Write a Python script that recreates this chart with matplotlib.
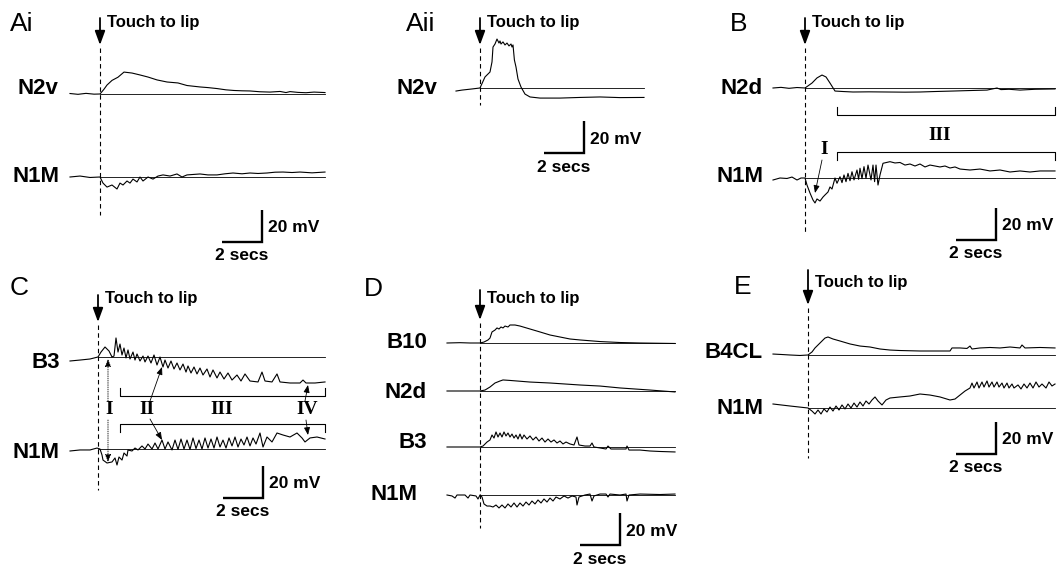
import matplotlib
matplotlib.use("Agg")
import matplotlib.pyplot as plt

W, H = 1057, 567
PX_S = 20.0    # pixels per second
PX_MV = 1.6    # pixels per mV
BAR_S, BAR_MV = 2, 20

# Ai: touch-evoked responses in N2v and N1M (time in s, potential in mV)
ai_t_n2v = [-1.5, -1.1, -0.7, -0.3, 0, 0.2, 0.35, 0.6, 0.9, 1.2, 1.6, 2.0, 2.4, 2.85, 3.35,
            3.9, 4.35, 5.0, 5.4, 5.85, 6.3, 6.7, 7.1, 7.5, 8.0, 8.5, 9.0, 9.3, 9.5, 9.9,
            10.3, 10.7, 11.25]
ai_n2v = [0.3, -0.2, 0.4, -0.1, 0, 3.0, 5.6, 8.5, 10.5, 13.7, 13.1, 11.9, 10.6, 8.8, 7.5,
          6.9, 5.3, 4.4, 4.0, 3.4, 2.6, 2.2, 2.0, 1.9, 1.4, 1.2, 1.6, 0.9, 1.5, 1.0,
          0.8, 1.2, 0.9]
ai_t_n1m = [-1.5, -1.0, -0.5, 0, 0.15, 0.35, 0.6, 0.85, 1.0, 1.15, 1.35, 1.5, 1.65, 1.85,
            2.0, 2.15, 2.4, 2.65, 2.9, 3.15, 3.5, 3.85, 4.1, 4.35, 5.0, 5.4, 5.85, 6.25,
            6.65, 7.1, 7.5, 7.9, 8.35, 8.75, 9.15, 9.6, 10.0, 10.6, 11.25]
ai_n1m = [0, 0.6, -0.3, 0, -3.8, -6.3, -5.0, -7.5, -3.8, -5.0, -2.5, -3.8, -1.3, -3.1,
          0, -2.5, 0, -1.3, 0.6, 1.3, 0.6, 1.9, 0, 1.3, 1.9, 1.3, 1.3, 2.0,
          2.5, 2.0, 2.5, 2.2, 2.5, 3.0, 3.1, 2.8, 3.1, 2.6, 3.1]

# Aii: N2v plateau
aii_t_n2v = [-1.2, -0.9, -0.4, 0, 0.25, 0.5, 0.6, 0.65, 0.75, 0.85, 0.95, 1.0, 1.05, 1.15,
             1.25, 1.35, 1.45, 1.55, 1.6, 1.65, 1.72, 1.8, 1.9, 2.05, 2.25, 2.5, 3.0, 4.0,
             5.0, 6.0, 7.0, 8.2]
aii_n2v = [-1.9, -1.3, -0.6, 0, 6.9, 10.0, 16.3, 25.6, 27.5, 30.6, 28.1, 29.4, 27.5, 28.8,
           26.9, 28.1, 26.3, 27.5, 25.6, 26.9, 17.5, 13.1, 5.6, 0.6, -3.8, -5.6, -6.3, -6.3,
           -5.9, -5.6, -6.0, -5.9]

# B: N2d and N1M
b_t_n2d = [-1.6, -1.2, -0.8, -0.4, 0, 0.35, 0.6, 0.85, 1.05, 1.25, 1.5, 1.9, 2.4, 3.2, 4.1,
           5.0, 5.75, 6.5, 7.4, 8.2, 9.1, 9.6, 9.8, 10.2, 10.75, 11.5, 12.5]
b_n2d = [0, 0.4, -0.2, 0.3, 0, 3.1, 6.3, 8.1, 6.9, 3.1, -1.9, -2.2, -2.5, -2.4, -2.5,
         -2.6, -2.5, -2.2, -1.9, -1.6, -1.3, 0, -1.0, -0.8, -1.3, -0.8, -0.6]
b_t_n1m = [-1.6, -1.25, -0.9, -0.65, -0.4, -0.2, 0, 0.1, 0.25, 0.4, 0.5, 0.6, 0.75, 0.9,
           1.0, 1.15, 1.25, 1.35, 1.5, 1.6, 1.75, 1.85, 1.95, 2.05, 2.15, 2.25, 2.35, 2.45,
           2.6, 2.68, 2.75, 2.85, 2.95, 3.05, 3.15, 3.3, 3.4, 3.48, 3.55, 3.65, 3.75, 3.9,
           4.25, 4.5, 4.75, 5.0, 5.25, 5.5, 5.75, 6.0, 6.25, 6.75, 7.0, 7.25, 7.5, 7.75,
           8.25, 8.75, 9.25, 9.75, 10.25, 10.75, 11.25, 11.75, 12.5]
b_n1m = [-1.25, 0, -0.3, 0.6, -1.25, 0, 0, -4.4, -9.4, -13.75, -15.6, -13.1, -14.4, -11.9,
         -10.6, -8.75, -5.6, -6.9, 0, -3.3, 0.8, -2.9, 1.9, -2.3, 2.9, -1.7, 3.9, -1.2,
         5.0, -0.8, 6.1, -0.4, 7.1, -0.2, 8.1, -1.2, 8.1, -2.3, 8.1, -4.4, 1.9, 9.2,
         10.2, 9.4, 9.7, 8.1, 8.75, 7.5, 8.75, 6.9, 8.1, 6.9, 7.5, 6.25, 6.9, 5.6,
         5.0, 5.6, 4.4, 5.0, 3.75, 4.4, 3.75, 4.4, 4.4]
b_phase3 = [1.6, 12.5]

# C: B3 and N1M, phases I-IV
c_t_b3 = [-1.4, -0.9, -0.4, 0, 0.15, 0.35, 0.55, 0.7, 0.8, 0.9, 1.0, 1.1, 1.2, 1.3, 1.4,
          1.5, 1.6, 1.75, 1.85, 1.95, 2.1, 2.25, 2.35, 2.5, 2.65, 2.8, 2.95, 3.1, 3.25, 3.35,
          3.5, 3.65, 3.8, 3.95, 4.1, 4.25, 4.4, 4.5, 4.65, 4.8, 4.95, 5.1, 5.25, 5.45, 5.6,
          5.75, 5.95, 6.1, 6.3, 6.5, 6.7, 6.95, 7.15, 7.35, 7.6, 8.0, 8.2, 8.35, 8.7, 8.95,
          9.1, 9.6, 10.1, 10.25, 10.4, 10.85, 11.35]
c_b3 = [-2.5, -1.9, -1.25, 0, 3.1, 6.25, 3.75, 0, 0.6, 11.9, 3.1, 8.1, 1.25, 5.6, -0.6,
        4.4, -1.25, 3.1, -1.9, 1.9, -2.5, 0.6, -3.1, 0.6, -3.75, 1.25, -5.0, 0, -6.25, -1.9,
        -6.9, -2.5, -7.5, -3.75, -8.1, -4.4, -9.4, -5.6, -10.0, -6.25, -10.6, -6.9, -11.25, -7.5, -12.5,
        -8.1, -13.1, -9.4, -13.75, -10.0, -14.4, -11.25, -15.0, -10.6, -15.0, -15.6, -9.4, -15.0, -15.6, -10.6,
        -15.6, -16.25, -16.25, -14.4, -16.25, -16.25, -15.6]
c_t_n1m = [-1.4, -0.9, -0.4, -0.05, 0.1, 0.2, 0.25, 0.45, 0.7, 0.85, 0.95, 1.05, 1.2, 1.3,
           1.45, 1.5, 1.7, 1.85, 2.0, 2.2, 2.35, 2.5, 2.7, 2.85, 3.0, 3.2, 3.35, 3.5, 3.7,
           3.85, 4.0, 4.15, 4.3, 4.45, 4.6, 4.75, 4.9, 5.05, 5.2, 5.35, 5.5, 5.65, 5.8, 5.95,
           6.1, 6.25, 6.4, 6.55, 6.7, 6.85, 7.0, 7.15, 7.3, 7.45, 7.6, 7.75, 7.9, 8.1, 8.25,
           8.45, 8.7, 8.95, 9.25, 9.6, 9.95, 10.2, 10.35, 10.6, 10.95, 11.35]
c_n1m = [-1.25, -0.6, -0.6, 0.6, 0, -3.75, -6.9, -8.75, -8.1, -5.6, -10.0, -5.0, -6.9, -2.5,
         -4.4, -0.6, -1.25, 0.6, -0.6, 1.9, 0, 3.1, 0, 3.75, 0, 5.6, 0, 4.4, -0.6,
         5.6, -0.3, 6.25, 0, 5.6, -0.3, 6.9, 0.3, 5.6, 0, 6.9, 0.6, 6.25, 0.6, 7.5,
         1.25, 5.6, 0.6, 6.9, 1.9, 7.5, 1.25, 6.25, 2.5, 7.5, 1.9, 6.9, 3.1, 10.0, 1.25,
         7.5, 4.4, 10.0, 8.75, 7.5, 10.0, 6.9, 4.4, 6.9, 7.5, 6.25]
c_phases = [1.1, 11.35]

# D: B10, N2d, B3, N1M
d_t_b10 = [-1.65, -1.0, -0.5, 0, 0.2, 0.4, 0.5, 0.6, 0.75, 0.85, 0.95, 1.05, 1.15, 1.25,
           1.4, 1.5, 1.75, 2.0, 2.5, 3.0, 3.5, 4.0, 4.5, 5.0, 6.0, 7.0, 8.0, 9.75]
d_b10 = [0, 0.2, 0, 0, 0.6, 1.9, 3.1, 6.9, 8.1, 9.4, 8.75, 10.0, 9.4, 10.6,
         10.0, 11.25, 11.25, 10.6, 8.75, 6.9, 5.0, 3.75, 2.5, 1.9, 0.9, 0.3, 0, -0.3]
d_t_n2d = [-1.65, -0.8, 0, 0.25, 0.5, 0.75, 1.0, 1.15, 1.5, 2.5, 3.5, 5.0, 6.0, 7.0, 8.5, 9.75]
d_n2d = [0, 0, 0, 0.6, 2.5, 5.0, 6.25, 6.9, 6.6, 5.6, 5.0, 3.75, 3.1, 1.9, 0.6, -0.6]
d_t_b3 = [-1.65, 0, 0.15, 0.35, 0.5, 0.6, 0.7, 0.8, 0.9, 1.0, 1.1, 1.2, 1.3, 1.4, 1.5,
          1.6, 1.7, 1.8, 1.9, 2.0, 2.1, 2.2, 2.35, 2.5, 2.65, 2.8, 2.95, 3.1, 3.25, 3.4,
          3.55, 3.7, 3.85, 4.0, 4.15, 4.3, 4.5, 4.7, 4.85, 4.95, 5.25, 5.5, 5.6, 5.7, 6.0,
          6.3, 6.4, 6.55, 7.0, 7.3, 7.35, 7.45, 8.0, 8.5, 9.0, 9.75]
d_b3 = [0, 0, 0.6, 3.1, 4.4, 7.5, 5.6, 9.4, 6.25, 8.75, 6.25, 9.4, 6.9, 8.75, 6.25,
        8.1, 5.6, 7.5, 5.0, 8.1, 5.0, 7.5, 5.0, 6.9, 4.4, 6.25, 3.75, 5.6, 3.1, 5.0,
        3.1, 4.4, 2.5, 3.75, 1.9, 3.1, 1.9, 1.25, 6.25, 1.25, 0.6, 0.6, 2.5, 0, -0.6,
        -1.25, 0.6, -1.25, -1.25, -1.25, 0.6, -1.9, -1.9, -2.5, -2.8, -3.1]
d_t_n1m = [-1.65, -1.4, -1.25, -1.15, -0.75, -0.6, -0.5, -0.2, -0.1, 0, 0.1, 0.2, 0.35, 0.5,
           0.65, 0.8, 0.95, 1.1, 1.25, 1.4, 1.55, 1.7, 1.85, 2.0, 2.15, 2.3, 2.45, 2.6, 2.75,
           2.9, 3.05, 3.2, 3.35, 3.5, 3.65, 3.8, 4.0, 4.2, 4.4, 4.6, 4.8, 4.85, 4.95, 5.25,
           5.5, 5.6, 5.7, 6.0, 6.3, 6.4, 6.5, 7.0, 7.3, 7.35, 7.45, 8.0, 9.0, 9.75]
d_n1m = [0, -0.6, -1.9, 0, 0, -1.9, 0, -0.6, -2.5, 0, -1.25, -5.6, -6.9, -6.9,
         -7.5, -6.25, -8.1, -6.25, -8.1, -5.6, -7.5, -5.0, -7.5, -5.0, -6.9, -4.4, -6.25, -3.75, -5.6,
         -3.1, -5.0, -2.5, -4.4, -1.9, -3.75, -1.25, -2.5, -0.6, -1.9, -0.6, -1.25, -6.25, -1.25, 0,
         0.6, -3.75, -0.6, 0.6, 0.6, -1.25, 0.6, 0, 0.6, -3.75, 0, 0.6, 0.3, 0.6]

# E: B4CL and N1M
e_t_b4cl = [-1.75, -1.3, -0.9, -0.4, 0, 0.2, 0.35, 0.6, 0.85, 1.0, 1.25, 1.6, 2.1, 2.6, 3.1,
            3.6, 4.1, 4.6, 5.6, 6.6, 7.1, 7.2, 7.6, 7.95, 8.1, 8.2, 8.6, 9.1, 9.6, 10.1,
            10.6, 10.7, 10.85, 11.6, 12.35]
e_b4cl = [0.6, 0.3, 0, -0.3, 0, 1.9, 4.4, 7.5, 10.6, 11.25, 10.0, 8.75, 6.9, 5.6, 5.0,
          3.75, 3.1, 2.8, 2.5, 2.5, 2.5, 4.4, 4.4, 4.1, 5.6, 3.75, 4.4, 4.7, 4.4, 5.0,
          4.4, 6.25, 4.4, 4.7, 4.4]
e_t_n1m = [-1.75, -0.9, 0, 0.2, 0.35, 0.5, 0.65, 0.8, 0.95, 1.1, 1.25, 1.4, 1.55, 1.7, 1.85,
           2.0, 2.15, 2.3, 2.45, 2.6, 2.75, 2.9, 3.05, 3.2, 3.35, 3.5, 3.7, 3.9, 4.1, 4.6,
           5.1, 5.6, 6.1, 6.6, 7.1, 7.35, 7.6, 7.85, 8.1, 8.2, 8.3, 8.45, 8.55, 8.7, 8.8,
           8.95, 9.05, 9.2, 9.3, 9.45, 9.55, 9.7, 9.8, 9.95, 10.05, 10.2, 10.3, 10.5, 10.65,
           10.8, 10.95, 11.1, 11.25, 11.4, 11.55, 11.7, 11.9, 12.05, 12.2, 12.35]
e_n1m = [2.5, 1.25, 0, -1.9, -3.75, -1.25, -3.75, -0.6, -2.5, 0.6, -1.9, 1.25, -1.25, 1.9, -0.6,
         2.5, 0, 3.1, 0.6, 3.75, 1.25, 4.4, 2.5, 5.0, 6.9, 4.4, 1.9, 5.0, 6.25, 6.9,
         7.5, 8.75, 8.1, 6.9, 5.0, 5.6, 8.1, 10.6, 12.5, 15.6, 12.5, 16.25, 12.5, 16.25, 13.1,
         16.9, 13.1, 16.25, 13.1, 16.25, 13.1, 15.6, 12.5, 15.6, 12.5, 15.0, 12.5, 14.4, 11.9,
         15.0, 12.5, 15.6, 12.5, 16.25, 13.1, 15.0, 12.5, 16.25, 13.75, 15.0]

plt.rcParams['font.family'] = ['Liberation Sans', 'DejaVu Sans']

fig = plt.figure(figsize=(W / 100, H / 100), dpi=100)
over = fig.add_axes([0, 0, 1, 1])
over.set_xlim(0, W)
over.set_ylim(H, 0)
over.axis('off')


def panel(sx, ry):
    # seconds / mV axes with t=0 at pixel column sx and 0 mV at pixel row ry
    ax = fig.add_axes([0, 0, 1, 1])
    ax.set_xlim(-sx / PX_S, (W - sx) / PX_S)
    ax.set_ylim((ry - H) / PX_MV, ry / PX_MV)
    ax.axis('off')
    return ax


def mv(ax, y):
    return ax.get_ylim()[1] - y / PX_MV


def sec(ax, x):
    return ax.get_xlim()[0] + x / PX_S


def trace(ax, t, v, base_y, name, name_x, name_y):
    off = mv(ax, base_y)
    ax.plot(t, [p + off for p in v], color='k', lw=0.8)
    ax.plot([0, t[-1]], [off, off], color='k', lw=0.6)
    over.text(name_x, name_y, name, ha='right', va='center', fontsize=16, fontweight='bold')


def stimulus(ax, top, tip, dash_end, text_y):
    sx = -ax.get_xlim()[0] * PX_S
    over.annotate('', xy=(sx, tip), xytext=(sx, top),
                  arrowprops=dict(arrowstyle='-|>,head_length=0.6,head_width=0.22', color='k',
                                  lw=1.3, mutation_scale=14, shrinkA=0, shrinkB=0))
    ax.plot([0, 0], [mv(ax, tip + 3), mv(ax, dash_end)], color='k', lw=0.8, dashes=(4, 3))
    over.text(sx + 7, text_y, 'Touch to lip', fontsize=12, fontweight='bold', va='center')


def scalebar(ax, cx, cy):
    t1, v0 = sec(ax, cx), mv(ax, cy)
    ax.plot([t1 - BAR_S, t1, t1], [v0, v0, v0 + BAR_MV], color='k', lw=1.7,
            solid_joinstyle='miter', solid_capstyle='butt')
    over.text(cx + 6, cy - 14, '20 mV', va='center', fontsize=12.5, fontweight='bold')
    over.text(cx - 20, cy + 14, '2 secs', ha='center', va='center', fontsize=12.5,
              fontweight='bold')


def bracket(ax, span, y, tick):
    v, vt = mv(ax, y), mv(ax, y + tick)
    ax.plot([span[0], span[0], span[1], span[1]], [vt, v, v, vt], color='k', lw=0.8)


def roman(x, y, s):
    over.text(x, y, s, ha='center', va='center', fontsize=14, fontweight='bold',
              family=['Liberation Serif', 'DejaVu Serif'])


def pointer(x0, y0, x1, y1, ls='-'):
    over.annotate('', xy=(x1, y1), xytext=(x0, y0),
                  arrowprops=dict(arrowstyle='-|>,head_length=0.5,head_width=0.2', color='k',
                                  lw=0.6, ls=ls, mutation_scale=9, shrinkA=0, shrinkB=0))


def letter(x, y, s):
    over.text(x, y, s, va='center', fontsize=19)


# Ai
ax = panel(100, 94)
trace(ax, ai_t_n2v, ai_n2v, 94, 'N2v', 58, 88)
trace(ax, ai_t_n1m, ai_n1m, 177, 'N1M', 60, 177)
stimulus(ax, 18, 45, 215, 23)
scalebar(ax, 262, 242)
letter(10, 24, 'Ai')

# Aii
ax = panel(480, 88)
trace(ax, aii_t_n2v, aii_n2v, 88, 'N2v', 437, 88)
stimulus(ax, 18, 45, 105, 22)
scalebar(ax, 584, 153)
letter(406, 24, 'Aii')

# B
ax = panel(805, 88)
trace(ax, b_t_n2d, b_n2d, 88, 'N2d', 763, 88)
trace(ax, b_t_n1m, b_n1m, 178, 'N1M', 763, 177)
stimulus(ax, 18, 45, 232, 22)
scalebar(ax, 996, 240)
bracket(ax, b_phase3, 115, -8)
bracket(ax, b_phase3, 152, 8)
roman(940, 135, 'III')
roman(824, 150, 'I')
pointer(822, 160, 815, 193)
letter(730, 24, 'B')

# C
ax = panel(98, 357)
trace(ax, c_t_b3, c_b3, 357, 'B3', 60, 362)
trace(ax, c_t_n1m, c_n1m, 449, 'N1M', 60, 452)
stimulus(ax, 295, 322, 490, 298)
scalebar(ax, 263, 498)
bracket(ax, c_phases, 396, -8)
bracket(ax, c_phases, 424, 8)
for x, s in [(109, 'I'), (147, 'II'), (222, 'III'), (307, 'IV')]:
    roman(x, 410, s)
pointer(108, 401, 108, 359, ':')
pointer(108, 420, 108, 462, ':')
pointer(150, 401, 162, 367)
pointer(150, 419, 162, 440)
pointer(305, 401, 308, 385)
pointer(306, 420, 308, 435)
letter(10, 288, 'C')

# D
ax = panel(480, 343)
trace(ax, d_t_b10, d_b10, 343, 'B10', 427, 343)
trace(ax, d_t_n2d, d_n2d, 391, 'N2d', 427, 392)
trace(ax, d_t_b3, d_b3, 447, 'B3', 427, 443)
trace(ax, d_t_n1m, d_n1m, 495, 'N1M', 417, 495)
stimulus(ax, 290, 320, 528, 298)
scalebar(ax, 620, 545)
letter(364, 289, 'D')

# E
ax = panel(808, 355)
trace(ax, e_t_b4cl, e_b4cl, 355, 'B4CL', 763, 353)
trace(ax, e_t_n1m, e_n1m, 408, 'N1M', 763, 408)
stimulus(ax, 270, 305, 458, 283)
scalebar(ax, 996, 454)
letter(734, 287, 'E')

fig.savefig('out.png', dpi=100)
